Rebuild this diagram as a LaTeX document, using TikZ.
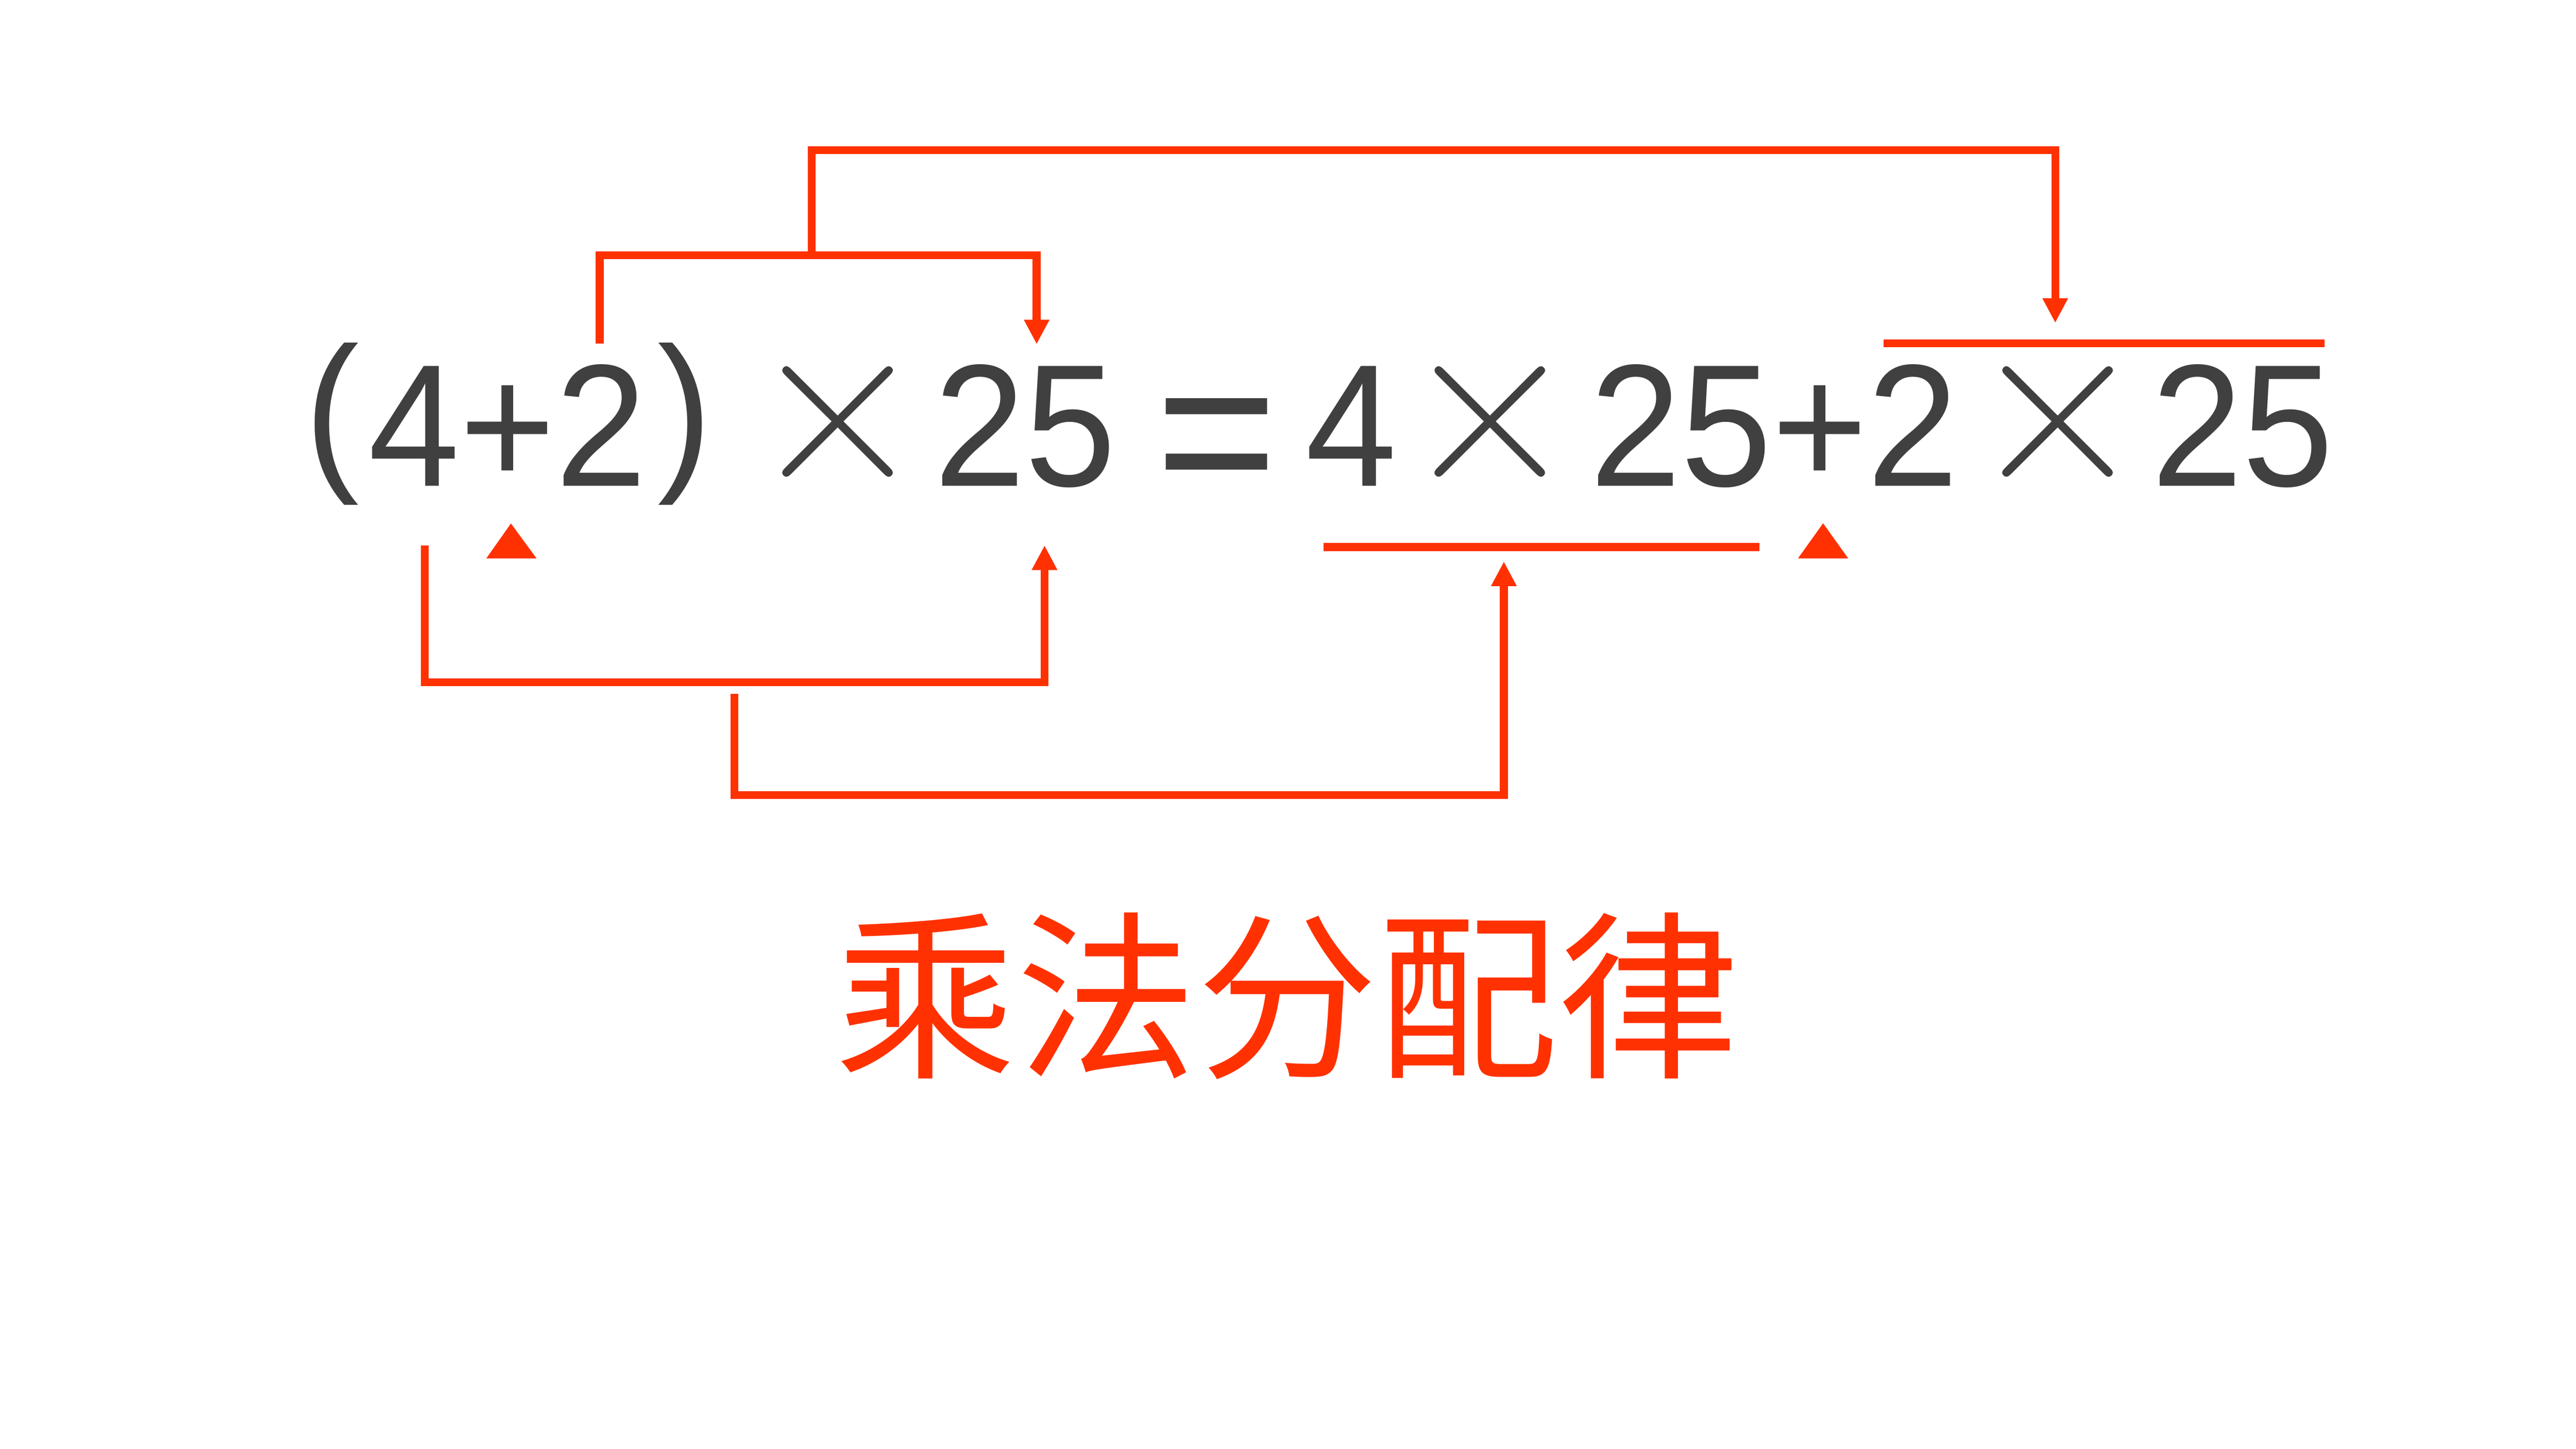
\documentclass[tikz,border=0pt]{standalone}
\usepackage{fontspec}
\usepackage{tikz}
\usetikzlibrary{arrows.meta,positioning}
\newfontfamily\eqfont{Liberation Sans}[FakeStretch=0.94]
\newfontfamily\cjkfont{Noto Sans CJK SC}
\definecolor{myred}{HTML}{FF3100}
\definecolor{mygray}{HTML}{404040}

\begin{document}
\begin{tikzpicture}[
    x=1pt, y=-1pt,
    eqtext/.style={
    text=mygray,
    inner sep=0pt,
    anchor=base,
    font=\eqfont\fontsize{106}{106}\selectfont},
    timestext/.style={
    text=mygray,
    inner sep=0pt,
    anchor=base,
    font=\fontsize{148}{148}\selectfont},
    myline/.style={draw=myred, line width=4.8pt},
    myarrow/.style={myline, -{Triangle[length=15pt,width=14.5pt]}},
    mymark/.style={fill=myred}
    ]

    \useasboundingbox (0,0) rectangle (1568,882.1);

    % equation
    \node[eqtext] (lp) at (202,285.5) {(};
    \node[eqtext] (e1) at (309,296) {4+2};
    \node[eqtext] (rp) at (417,285.5) {)};
    \node[timestext] (t1) at (510,293.7) {×};
    \node[eqtext] (e2) at (624,296) {25};
    \node[eqtext, font=\eqfont\fontsize{135}{135}\selectfont] (eq) at (740.5,308.6) {=};
    \node[eqtext] (e3) at (822.5,296) {4};
    \node[timestext] (t2) at (907,293.7) {×};
    \node[eqtext] (e4) at (1080,296) {25+2};
    \node[timestext] (t3) at (1252.5,293.7) {×};
    \node[eqtext] (e5) at (1365,296) {25};

    \node[text=myred, inner sep=0pt, anchor=base,
          font=\cjkfont\fontsize{110}{110}\selectfont] (law) at (783.5,648) {乘法分配律};

    % ends of the connectors
    \coordinate (a1) at (365,209.2);
    \coordinate (a2) at (631,209.6);
    \coordinate (a3) at (494,155.4);
    \coordinate (a4) at (1251,196.6);
    \coordinate (b1) at (258.5,332);
    \coordinate (b2) at (635.8,332);
    \coordinate (b3) at (447,422.5);
    \coordinate (b4) at (915.4,341.8);

    \draw[myarrow] (a1) |- (a3) -| (a2);
    \draw[myarrow] (a3) |- (750,91.5) -| (a4);
    \draw[myarrow] (b1) |- (450,415.3) -| (b2);
    \draw[myarrow] (b3) |- (700,484) -| (b4);

    % over and under lines
    \draw[myline] (805.5,333) -- (1071,333);
    \draw[myline] (1146.5,209) -- (1415,209);

    % markers
    \fill[mymark] (296,340) -- (311,318.7) -- (326.6,340) -- cycle;
    \fill[mymark] (1094.4,340) -- (1109.7,318.6) -- (1125,340) -- cycle;
\end{tikzpicture}
\end{document}
